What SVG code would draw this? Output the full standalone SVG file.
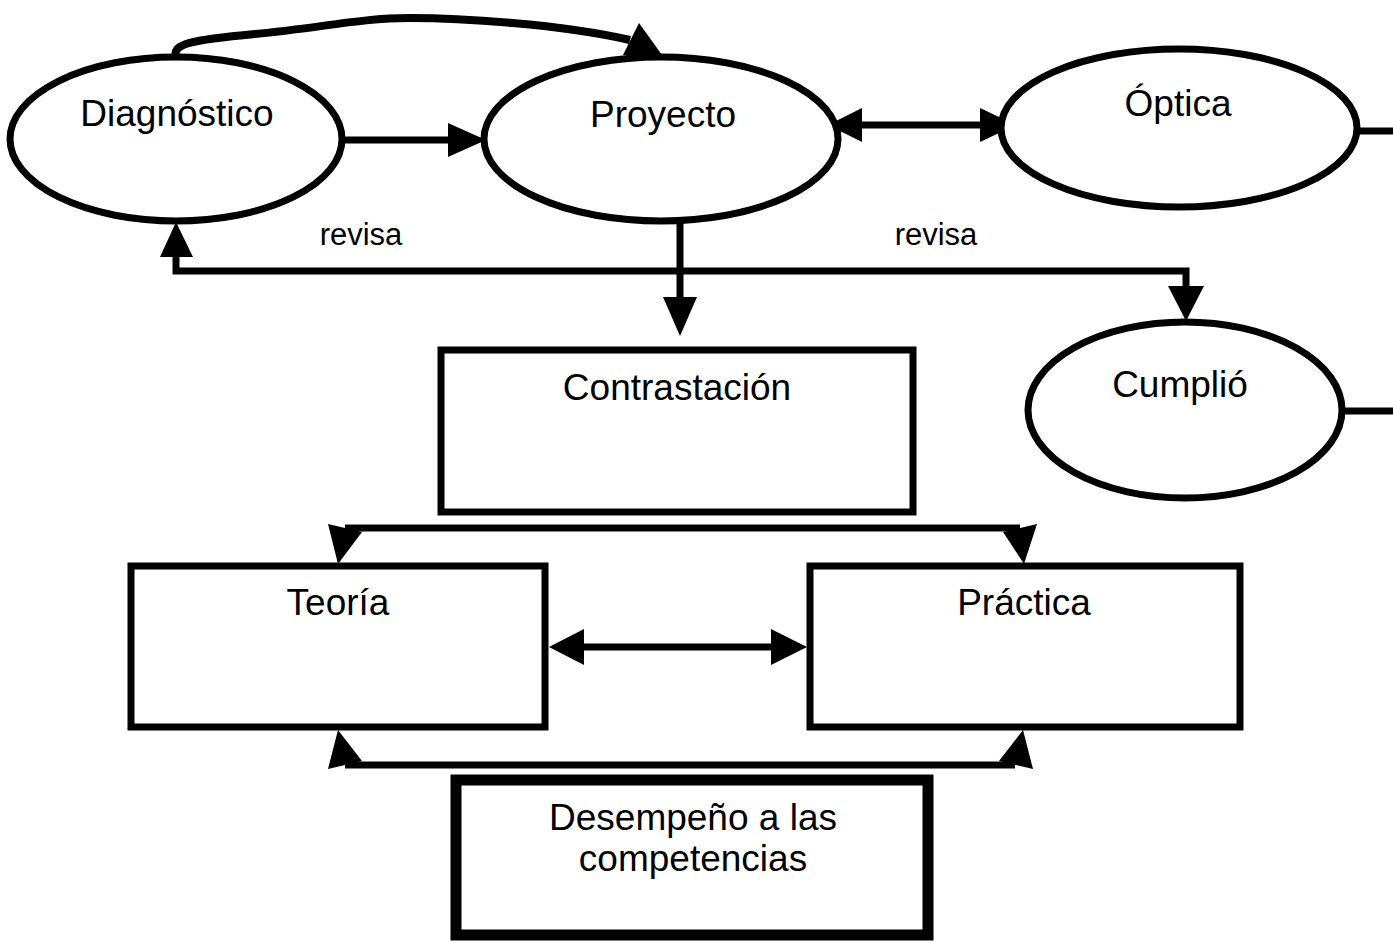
<svg xmlns="http://www.w3.org/2000/svg" width="1393" height="942" viewBox="0 0 1393 942">
<style>
.sh{fill:#fff;stroke:#000;stroke-width:7}
.t{font-family:"Liberation Sans",Arial,sans-serif;font-size:37px;fill:#000;text-anchor:middle}
.s{font-family:"Liberation Sans",Arial,sans-serif;font-size:31px;fill:#000;text-anchor:middle}
.ln{fill:none;stroke:#000;stroke-width:7}
.ah{fill:#000;stroke:none}
</style>
<rect width="1393" height="942" fill="#fff"/>
<g id="connectors">
  <path class="ln" style="stroke-width:8" d="M176,57 C172,44 190,40 255,34 S360,18 410,18 S560,24 630,40"/>
  <polygon class="ah" points="639,23 623,55 662,55"/>
  <line class="ln" x1="342" y1="140" x2="452" y2="140"/>
  <polygon class="ah" points="486,140 448,123 448,157"/>
  <line class="ln" x1="858" y1="125" x2="985" y2="125"/>
  <polygon class="ah" points="828,125 862,108 862,142"/>
  <polygon class="ah" points="1016,125 980,108 980,142"/>
  <line class="ln" x1="680" y1="221" x2="680" y2="300"/>
  <polygon class="ah" points="680,336 663,297 697,297"/>
  <polyline class="ln" points="176,254 176,271 1186,271 1186,290"/>
  <polygon class="ah" points="176,222 160,257 193,257"/>
  <polygon class="ah" points="1186,321 1168,286 1204,286"/>
  <line class="ln" x1="1357" y1="131" x2="1393" y2="131"/>
  <line class="ln" x1="1342" y1="411" x2="1393" y2="411"/>
  <line class="ln" x1="345" y1="528" x2="1020" y2="528"/>
  <polygon class="ah" points="328,524 362,532 338,564"/>
  <polygon class="ah" points="1037,524 1003,532 1024,564"/>
  <line class="ln" x1="580" y1="647" x2="776" y2="647"/>
  <polygon class="ah" points="549,647 584,629 584,665"/>
  <polygon class="ah" points="807,647 771,629 771,665"/>
  <line class="ln" x1="345" y1="765" x2="1015" y2="765"/>
  <polygon class="ah" points="338,730 328,769 362,761"/>
  <polygon class="ah" points="1023,730 999,761 1033,769"/>
</g>
<g id="diagnostico">
  <ellipse class="sh" cx="176" cy="139" rx="166" ry="82"/>
  <text class="t" x="177" y="126">Diagnóstico</text>
</g>
<g id="proyecto">
  <ellipse class="sh" cx="661" cy="139" rx="177" ry="82"/>
  <text class="t" x="663" y="127">Proyecto</text>
</g>
<g id="optica">
  <ellipse class="sh" cx="1179" cy="128" rx="178" ry="79"/>
  <text class="t" x="1178" y="116">Óptica</text>
</g>
<g id="cumplio">
  <ellipse class="sh" cx="1185" cy="410" rx="157" ry="88"/>
  <text class="t" x="1180" y="397">Cumplió</text>
</g>
<g id="revisa1"><text class="s" x="361" y="245">revisa</text></g>
<g id="revisa2"><text class="s" x="936" y="245">revisa</text></g>
<g id="contrastacion">
  <rect class="sh" x="441" y="350" width="472" height="162"/>
  <text class="t" x="677" y="400">Contrastación</text>
</g>
<g id="teoria">
  <rect class="sh" x="131" y="566" width="414" height="161"/>
  <text class="t" x="338" y="615">Teoría</text>
</g>
<g id="practica">
  <rect class="sh" x="810" y="566" width="430" height="161"/>
  <text class="t" x="1024" y="615">Práctica</text>
</g>
<g id="desempeno">
  <rect x="456" y="780" width="472" height="155" fill="#fff" stroke="#000" stroke-width="11"/>
  <text class="t" x="693" y="830">Desempeño a las</text>
  <text class="t" x="693" y="871">competencias</text>
</g>
</svg>
